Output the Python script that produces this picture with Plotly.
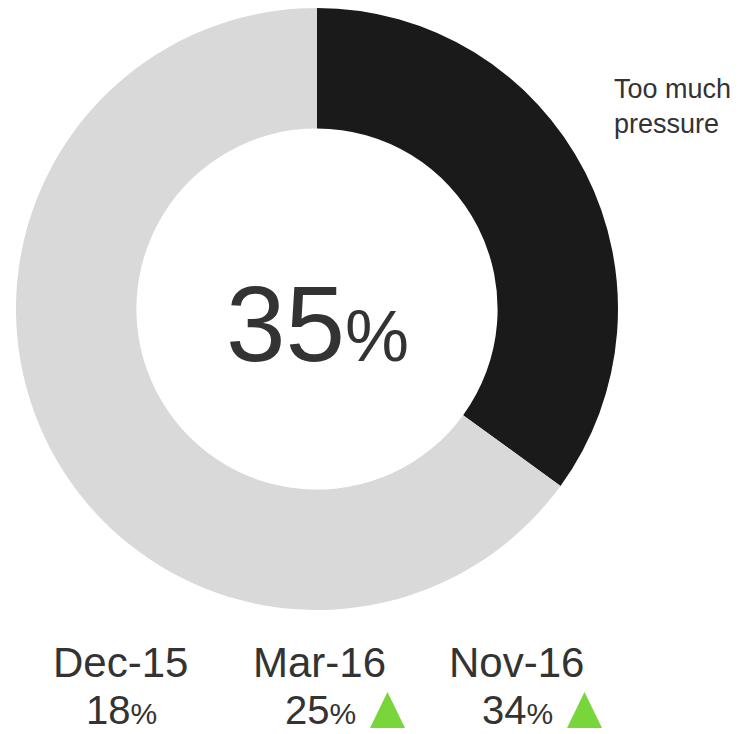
import plotly.graph_objects as go

# Data
slice_labels = ["Too much pressure", "Other"]
slice_values = [35, 65]
center_value = 35
periods = ["Dec-15", "Mar-16", "Nov-16"]
period_values = [18, 25, 34]

W, H = 749, 734
FONT = "Liberation Sans, Arial, sans-serif"
TXT = "#333333"
GREEN = "#78d63a"

def px(x):
    return x / W

def py(y):
    return 1 - y / H

fig = go.Figure()
fig.add_trace(go.Pie(
    labels=slice_labels,
    values=slice_values,
    hole=0.6,
    sort=False,
    direction="clockwise",
    rotation=0,
    marker=dict(colors=["#1a1a1a", "#d9d9d9"], line=dict(width=0)),
    textinfo="none",
    hoverinfo="label+percent",
    showlegend=False,
    domain=dict(x=[px(16), px(618)], y=[py(610), py(8)]),
))

annotations = []
shapes = []
# center label
annotations.append(dict(
    x=px(317), y=py(324), xref="paper", yref="paper",
    text=f"{center_value}<span style='font-size:72px'>%</span>",
    showarrow=False, xanchor="center", yanchor="middle",
    font=dict(family=FONT, size=107, color=TXT),
))
# slice label
annotations.append(dict(
    x=px(612), y=py(106), xref="paper", yref="paper",
    text="Too much<br>pressure", align="left",
    showarrow=False, xanchor="left", yanchor="middle",
    font=dict(family=FONT, size=27, color=TXT),
))

centers = [121, 320, 517]
for i, (p, v) in enumerate(zip(periods, period_values)):
    cx = centers[i]
    annotations.append(dict(
        x=px(cx - 1), y=py(662), xref="paper", yref="paper",
        text=p, showarrow=False, xanchor="center", yanchor="middle",
        font=dict(family=FONT, size=42, color=TXT),
    ))
    annotations.append(dict(
        x=px(cx), y=py(710), xref="paper", yref="paper",
        text=f"{v}<span style='font-size:30px'>%</span>",
        showarrow=False, xanchor="center", yanchor="middle",
        font=dict(family=FONT, size=40, color=TXT),
    ))
    if i > 0 and v > period_values[i - 1]:
        x0, x1 = px(cx + 50), px(cx + 85)
        xm = (x0 + x1) / 2
        y0, y1 = py(728), py(692)
        shapes.append(dict(
            type="path", xref="paper", yref="paper",
            path=f"M {x0} {y0} L {x1} {y0} L {xm} {y1} Z",
            fillcolor=GREEN, line=dict(width=0),
        ))

fig.update_layout(
    width=W, height=H,
    margin=dict(l=0, r=0, t=0, b=0),
    paper_bgcolor="white", plot_bgcolor="white",
    annotations=annotations, shapes=shapes,
)
fig.write_html(
    "out.html",
    config={"displayModeBar": False},
    post_script="document.body.style.margin='0';document.body.style.overflow='hidden';",
)
